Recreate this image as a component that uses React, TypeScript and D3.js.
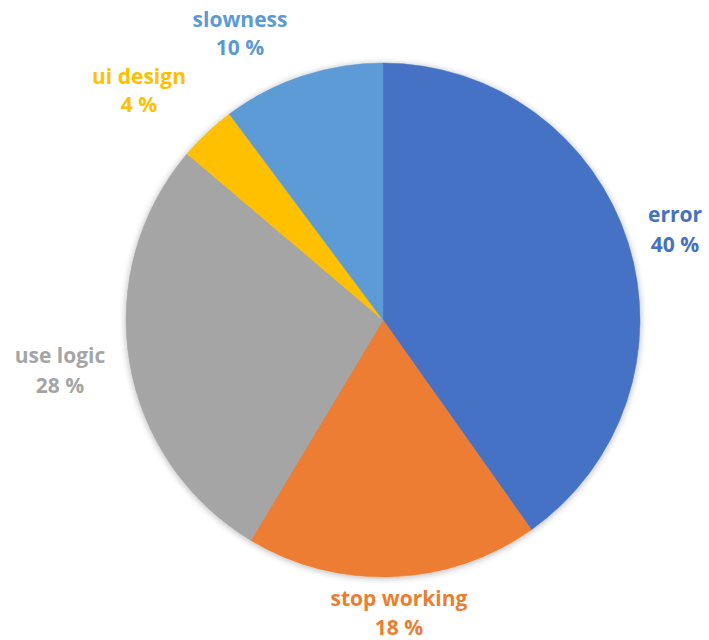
import React from "react";
import * as d3 from "d3";

const categories = ["error", "stop working", "use logic", "ui design", "slowness"];
const values = [40.2, 18.4, 27.6, 3.6, 10.2];
const colors = ["#4472C4", "#ED7D31", "#A5A5A5", "#FFC000", "#5B9BD5"];
const labelColors = ["#4472C4", "#ED7D31", "#A5A5A5", "#FFC000", "#5B9BD5"];

// label layout (center x, first-line baseline y, second-line baseline y)
const labelPos: [number, number, number][] = [
  [675, 222, 252],
  [399, 606, 635],
  [60, 363, 393],
  [139, 84, 112],
  [240, 27, 55],
];

export default function App() {
  const width = 709;
  const height = 640;
  const cx = 383;
  const cy = 320;
  const r = 257;
  const pie = d3.pie<number>().sort(null).value((d) => d);
  const arcs = pie(values);
  const arc = d3.arc<d3.PieArcDatum<number>>().innerRadius(0).outerRadius(r);
  const total = d3.sum(values);
  return (
    <svg width={width} height={height} style={{ position: "absolute", left: 0, top: 0, background: "#fff" }}>
      <defs>
        <filter id="sh" x="-10%" y="-10%" width="120%" height="120%">
          <feGaussianBlur in="SourceAlpha" stdDeviation="3.5" />
          <feOffset dx="0" dy="1" result="b" />
          <feComponentTransfer>
            <feFuncA type="linear" slope="0.3" />
          </feComponentTransfer>
          <feMerge>
            <feMergeNode />
            <feMergeNode in="SourceGraphic" />
          </feMerge>
        </filter>
      </defs>
      <g transform={`translate(${cx},${cy})`} filter="url(#sh)">
        {arcs.map((a, i) => (
          <path key={i} d={arc(a) || ""} fill={colors[i]} stroke={colors[i]} strokeWidth={0.5} />
        ))}
      </g>
      {arcs.map((a, i) => (
        <text
          key={"t" + i}
          textAnchor="middle"
          fill={labelColors[i]}
          fontFamily="'Open Sans', sans-serif"
          fontWeight="bold"
          fontSize={21}
        >
          <tspan x={labelPos[i][0]} y={labelPos[i][1]}>{categories[i]}</tspan>
          <tspan x={labelPos[i][0]} y={labelPos[i][2]}>{`${Math.round((values[i] / total) * 100)} %`}</tspan>
        </text>
      ))}
    </svg>
  );
}
